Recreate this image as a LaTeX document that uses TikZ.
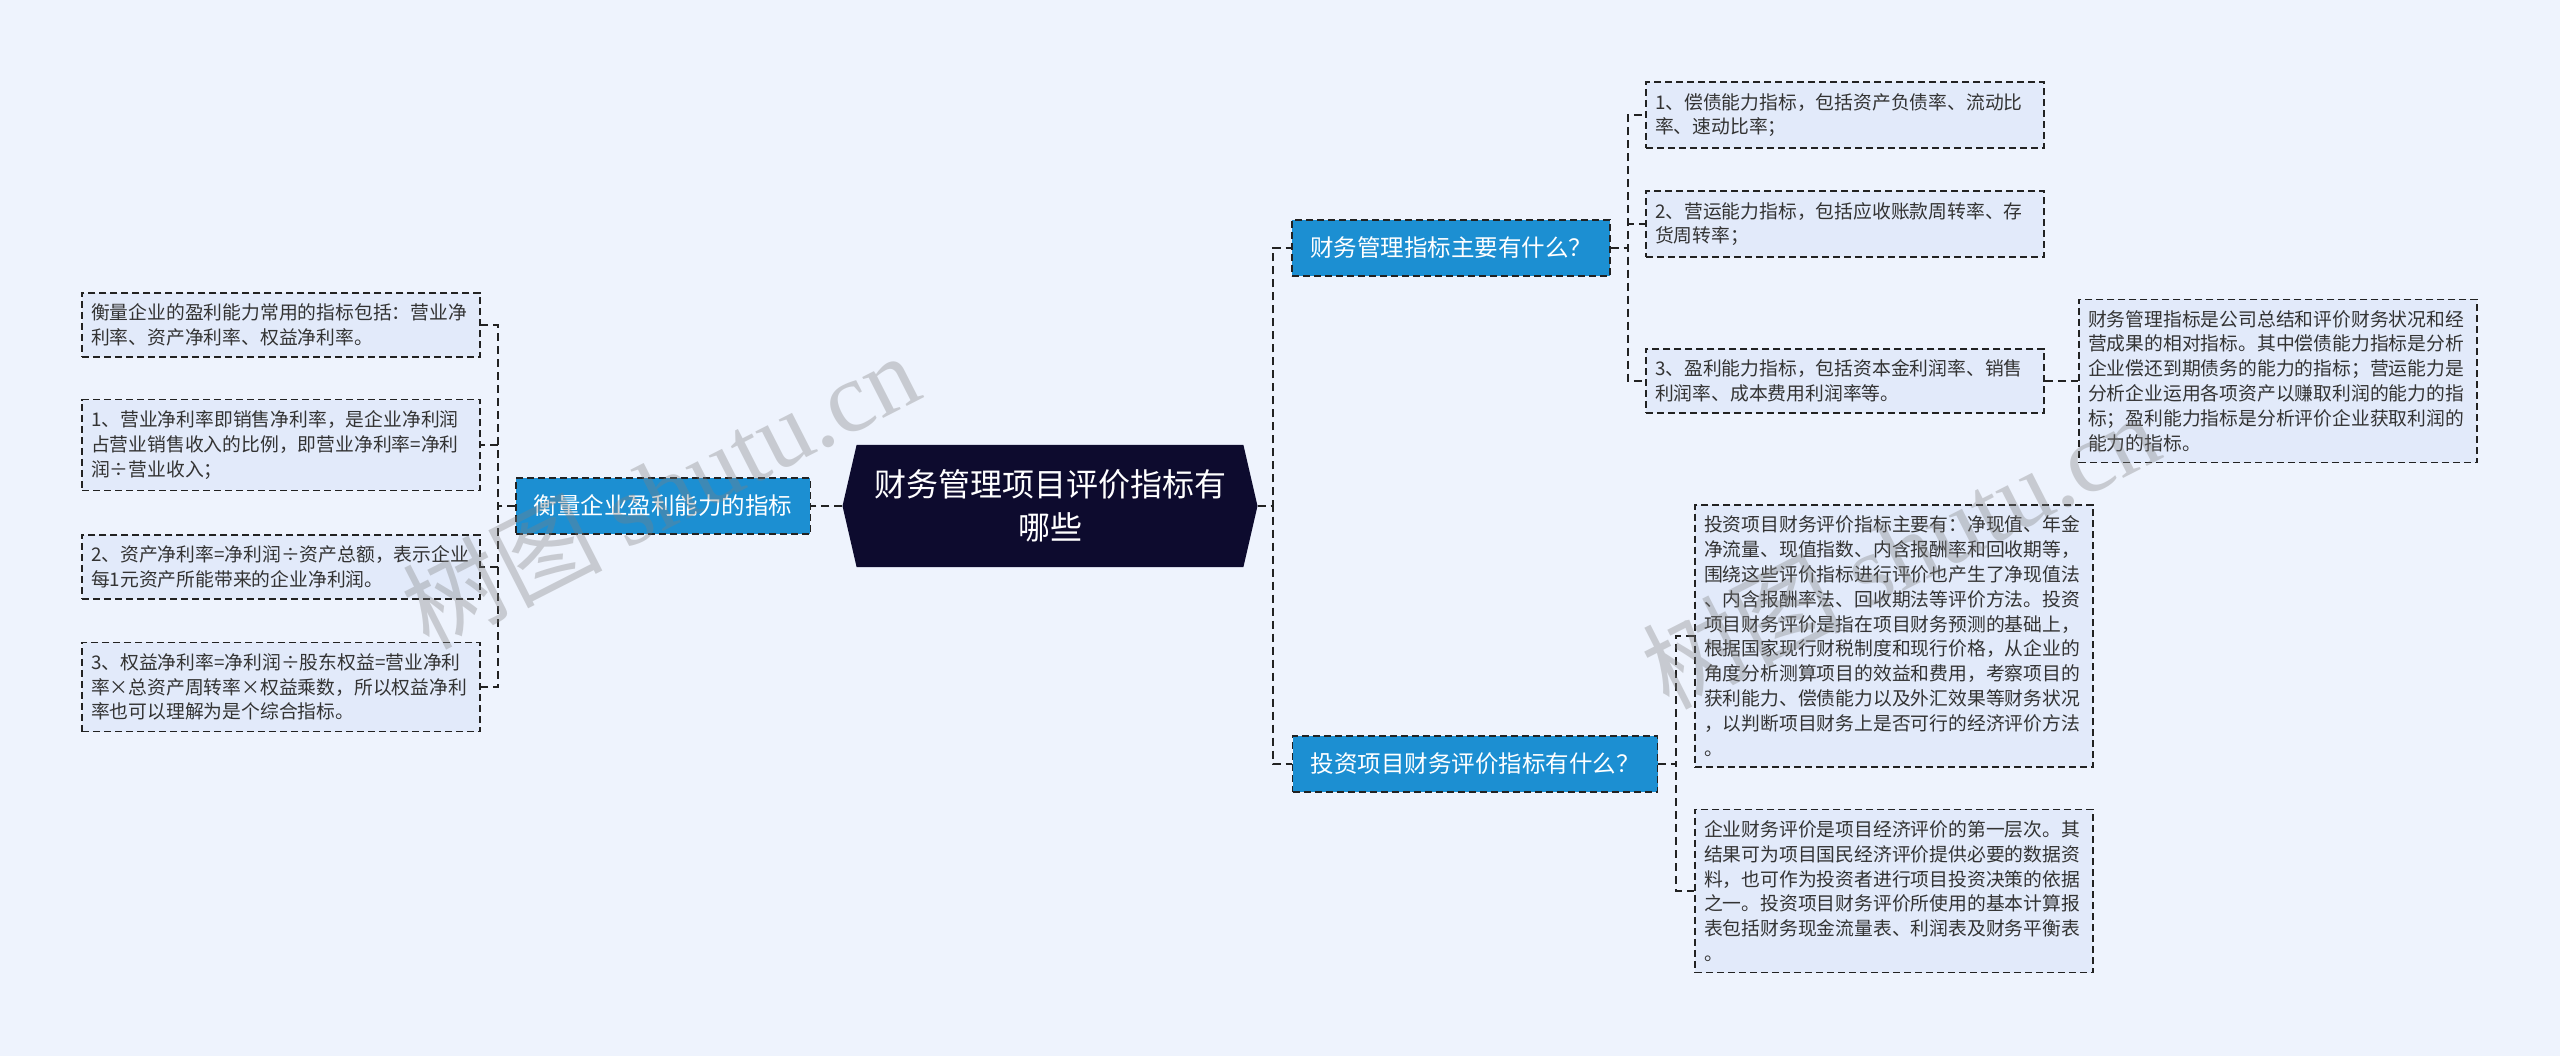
\documentclass[tikz,border=0pt]{standalone}
\usepackage{fontspec}
\setmainfont{Noto Sans CJK SC}
\newfontfamily\wmserif{Liberation Serif}
\usetikzlibrary{shapes.symbols}

\definecolor{bgcol}{HTML}{EEF3FD}
\definecolor{leafcol}{HTML}{E2EAFA}
\definecolor{branchcol}{HTML}{1C8FD2}
\definecolor{rootcol}{HTML}{0D0B2E}
\definecolor{linecol}{HTML}{222222}
\definecolor{textcol}{HTML}{333333}

\begin{document}
\begin{tikzpicture}[x=1pt,y=-1pt,
  leafbox/.style={draw=linecol, line width=1.5pt, dash pattern=on 7pt off 4pt, fill=leafcol, text=textcol, align=left, text width=380pt, inner xsep=9pt, inner ysep=11pt, font=\fontsize{18.8}{24.8}\selectfont},
  branchbox/.style={draw=linecol, line width=1.5pt, dash pattern=on 7pt off 4pt, fill=branchcol, text=white, inner xsep=18pt, minimum height=56pt, font=\fontsize{23.5}{28}\selectfont},
  rootbox/.style={signal, signal to=west and east, signal pointer angle=154, fill=rootcol, text=white, align=center, minimum width=415pt, minimum height=122pt, font=\fontsize{32}{43}\selectfont},
  link/.style={draw=linecol, line width=2pt, dash pattern=on 8pt off 5pt},
  watermark/.style={text=gray, text opacity=0.35, rotate=27, font=\fontsize{100}{100}\selectfont}]
\useasboundingbox (0,0) rectangle (2560,1056);
\fill[bgcol] (0,0) rectangle (2560,1056);

\node[rootbox] (root) at (1050,506) {财务管理项目评价指标有\\哪些};

\node[branchbox] (left0) at (663,506) {衡量企业盈利能力的指标};
\node[leafbox] (left1) at (281,325) {衡量企业的盈利能力常用的指标包括：营业净\\利率、资产净利率、权益净利率。};
\node[leafbox] (left2) at (281,445) {1、营业净利率即销售净利率，是企业净利润\\占营业销售收入的比例，即营业净利率=净利\\润÷营业收入；};
\node[leafbox] (left3) at (281,567) {2、资产净利率=净利润÷资产总额，表示企业\\每1元资产所能带来的企业净利润。};
\node[leafbox] (left4) at (281,687) {3、权益净利率=净利润÷股东权益=营业净利\\率×总资产周转率×权益乘数，所以权益净利\\率也可以理解为是个综合指标。};

\node[branchbox] (right1) at (1451,248) {财务管理指标主要有什么？};
\node[leafbox] (right1a) at (1845,115) {1、偿债能力指标，包括资产负债率、流动比\\率、速动比率；};
\node[leafbox] (right1b) at (1845,224) {2、营运能力指标，包括应收账款周转率、存\\货周转率；};
\node[leafbox] (right1c) at (1845,381) {3、盈利能力指标，包括资本金利润率、销售\\利润率、成本费用利润率等。};
\node[leafbox] (right1d) at (2278,381) {财务管理指标是公司总结和评价财务状况和经\\营成果的相对指标。其中偿债能力指标是分析\\企业偿还到期债务的能力的指标；营运能力是\\分析企业运用各项资产以赚取利润的能力的指\\标；盈利能力指标是分析评价企业获取利润的\\能力的指标。};

\node[branchbox] (right2) at (1475,764) {投资项目财务评价指标有什么？};
\node[leafbox] (right2a) at (1894,636) {投资项目财务评价指标主要有：净现值、年金\\净流量、现值指数、内含报酬率和回收期等，\\围绕这些评价指标进行评价也产生了净现值法\\、内含报酬率法、回收期法等评价方法。投资\\项目财务评价是指在项目财务预测的基础上，\\根据国家现行财税制度和现行价格，从企业的\\角度分析测算项目的效益和费用，考察项目的\\获利能力、偿债能力以及外汇效果等财务状况\\，以判断项目财务上是否可行的经济评价方法\\。};
\node[leafbox] (right2b) at (1894,891) {企业财务评价是项目经济评价的第一层次。其\\结果可为项目国民经济评价提供必要的数据资\\料，也可作为投资者进行项目投资决策的依据\\之一。投资项目财务评价所使用的基本计算报\\表包括财务现金流量表、利润表及财务平衡表\\。};

\coordinate (ltrunk) at (498,506);
\coordinate (rtrunk) at (1273,506);
\coordinate (r1trunk) at (1628,248);
\coordinate (r2trunk) at (1676,764);

\draw[link] (root.west) -- (left0.east);
\foreach \n in {1,...,4}
  \draw[link] (left0.west) -- (ltrunk) |- (left\n.east);

\draw[link] (root.east) -- (rtrunk) |- (right1.west);
\draw[link] (root.east) -- (rtrunk) |- (right2.west);
\foreach \n in {a,b,c}
  \draw[link] (right1.east) -- (r1trunk) |- (right1\n.west);
\draw[link] (right1c.east) -- (right1c.east -| right1d.west);
\foreach \n in {a,b}
  \draw[link] (right2.east) -- (r2trunk) |- (right2\n.west);

% watermarks
\node[watermark] (wm1) at (660,490) {树图 {\wmserif shutu.cn}};
\node[watermark] (wm2) at (1900,550) {树图 {\wmserif shutu.cn}};
\end{tikzpicture}
\end{document}
